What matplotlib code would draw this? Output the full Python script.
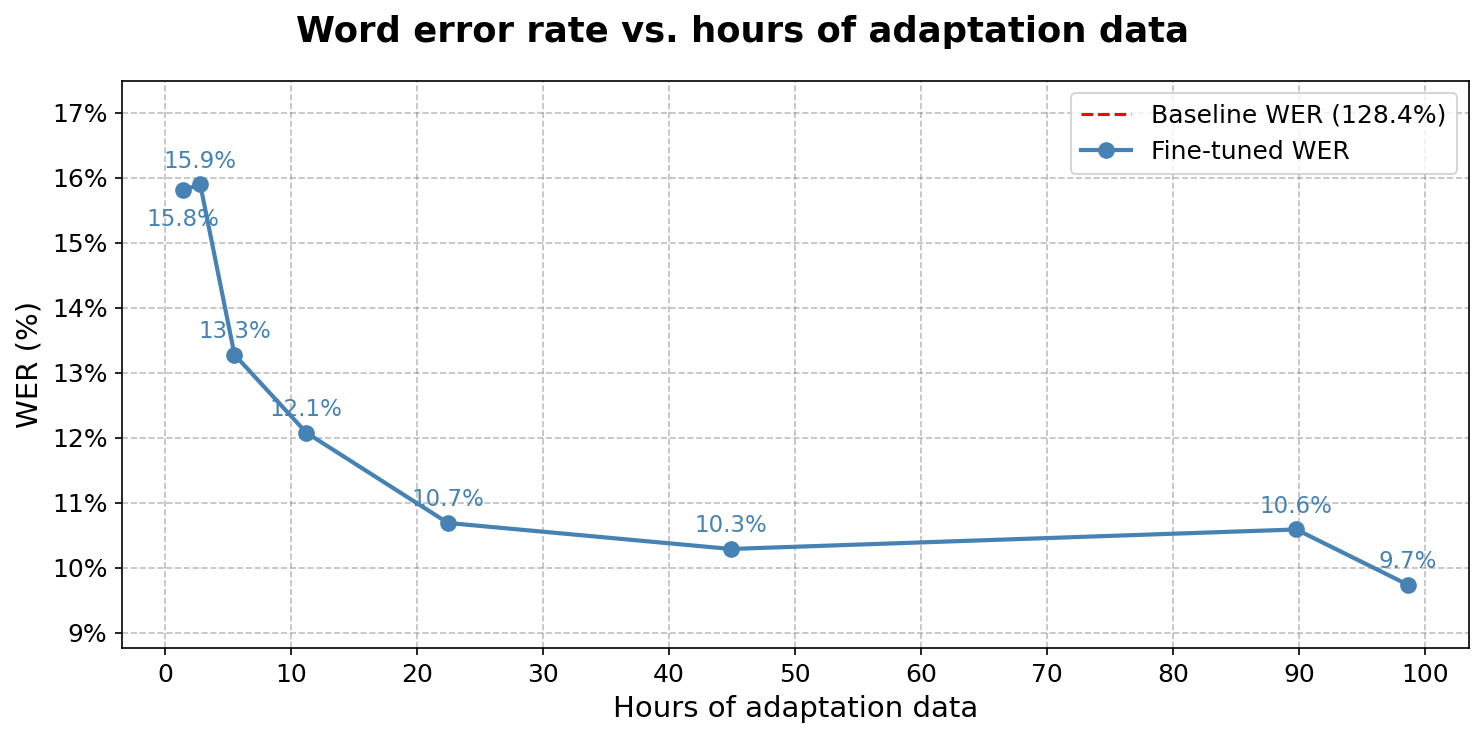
import matplotlib
matplotlib.use("Agg")
import matplotlib.pyplot as plt
from matplotlib.ticker import FuncFormatter, MultipleLocator

# data
hours = [1.43, 2.78, 5.5, 11.2, 22.45, 44.9, 89.8, 98.65]
wer = [15.81, 15.90, 13.28, 12.08, 10.69, 10.29, 10.59, 9.74]
baseline_wer = 128.4

fig = plt.figure(figsize=(1484 / 150, 739 / 150), dpi=150)
ax = fig.add_axes([0.0822, 0.1231, 0.9077, 0.7673])

ax.axhline(baseline_wer, color="red", linestyle="--", linewidth=1.5,
           label=f"Baseline WER ({baseline_wer:.1f}%)")
ax.plot(hours, wer, color="steelblue", marker="o", markersize=7,
        linewidth=2, label="Fine-tuned WER")

for i, (h, w) in enumerate(zip(hours, wer)):
    off = (0, -17) if i == 0 else (0, 8)
    ax.annotate(f"{w:.1f}%", (h, w), xytext=off, textcoords="offset points",
                ha="center", fontsize=11, color="steelblue")

ax.set_ylim(min(wer) * 0.9, max(wer) * 1.1)
ax.yaxis.set_major_locator(MultipleLocator(1))
ax.yaxis.set_major_formatter(FuncFormatter(lambda v, p: f"{v:.0f}%"))
ax.xaxis.set_major_locator(MultipleLocator(10))
ax.tick_params(labelsize=12)

ax.grid(True, linestyle="--", color="gray", alpha=0.5)
ax.set_xlabel("Hours of adaptation data", fontsize=14)
ax.set_ylabel("WER (%)", fontsize=14)
ax.legend(loc="upper right", fontsize=12)
fig.suptitle("Word error rate vs. hours of adaptation data",
             fontsize=17, fontweight="bold", y=0.98)

fig.savefig("out.png", dpi=150)
